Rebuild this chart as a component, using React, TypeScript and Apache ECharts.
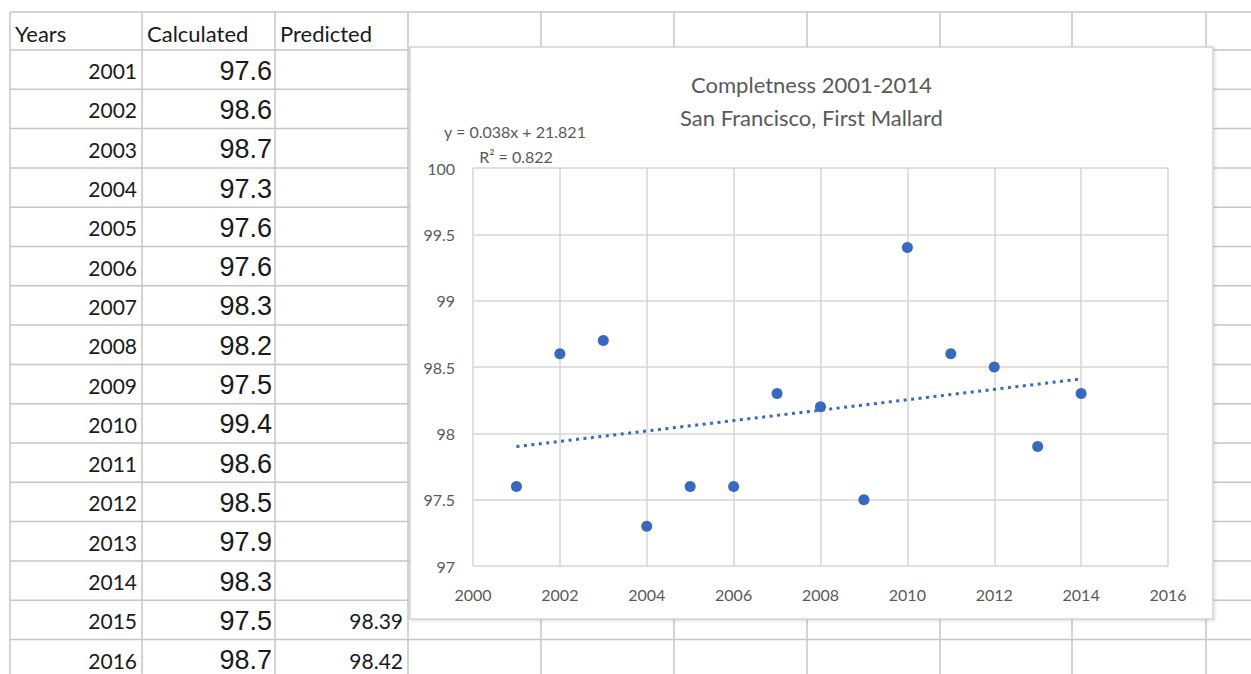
import React, { useEffect, useRef } from "react";
import * as echarts from "echarts";

// ---------- data ----------
const headers = ["Years", "Calculated", "Predicted"];
const years = [2001, 2002, 2003, 2004, 2005, 2006, 2007, 2008, 2009, 2010, 2011, 2012, 2013, 2014, 2015, 2016];
const calculated = [97.6, 98.6, 98.7, 97.3, 97.6, 97.6, 98.3, 98.2, 97.5, 99.4, 98.6, 98.5, 97.9, 98.3, 97.5, 98.7];
const predicted: (number | null)[] = [null, null, null, null, null, null, null, null, null, null, null, null, null, null, 98.39, 98.42];

const chartYears = years.slice(0, 14);
const chartValues = calculated.slice(0, 14);
const trendYears = [2001, 2014];
const trendValues = [97.9, 98.41];

const titleLines = ["Completness 2001-2014", "San Francisco, First Mallard"];
const equationLines = ["y = 0.038x + 21.821", "R² = 0.822"];

const xMin = 2000, xMax = 2016, xStep = 2;
const yMin = 97, yMax = 100, yStep = 0.5;

// ---------- layout ----------
const W = 1251, H = 674;
const colX = [10, 142, 275, 408, 541, 674, 807, 940, 1072, 1206];
const headerTop = 12;
const firstRowTop = 50;
const rowH = 39.3;
const box = { x: 410, y: 47, w: 803, h: 572 };
const plot = { left: 473, top: 168, w: 695, h: 398 };

const CAL = "Lato, 'Open Sans', sans-serif";
const ARIAL = "'Liberation Sans', Arial, sans-serif";
const LINE = "#c6c6c6";
const BLUE = "#3868c0";

export default function App() {
  const ref = useRef<HTMLDivElement>(null);
  useEffect(() => {
    if (!ref.current) return;
    const chart = echarts.init(ref.current, null, { renderer: "svg" });
    const els: any[] = [];
    const rowYs: number[] = [headerTop];
    for (let i = 0; i <= years.length; i++) rowYs.push(firstRowTop + i * rowH);
    rowYs.forEach((y) => {
      els.push({ type: "line", z: -3, shape: { x1: colX[0], y1: y, x2: W, y2: y }, style: { stroke: LINE, lineWidth: 1.5 } });
    });
    colX.forEach((x) => {
      els.push({ type: "line", z: -3, shape: { x1: x, y1: headerTop, x2: x, y2: H }, style: { stroke: LINE, lineWidth: 1.5 } });
    });
    els.push({
      type: "rect", z: -2,
      shape: { x: box.x, y: box.y, width: box.w, height: box.h },
      style: { fill: "#ffffff", stroke: "#d4d4d4", lineWidth: 1.5, shadowBlur: 3, shadowOffsetX: 1, shadowOffsetY: 1, shadowColor: "rgba(0,0,0,0.15)" },
    });
    headers.forEach((h, i) => {
      els.push({ type: "text", z: -1, style: { text: h, x: colX[i] + 5, y: (headerTop + firstRowTop) / 2 + 2, fill: "#1a1a1a", font: `22px ${CAL}`, align: "left", verticalAlign: "middle" } });
    });
    years.forEach((yr, i) => {
      const cy = firstRowTop + i * rowH + rowH / 2 + 1;
      els.push({ type: "text", z: -1, style: { text: String(yr), x: colX[1] - 5, y: cy, fill: "#1a1a1a", font: `21px ${CAL}`, align: "right", verticalAlign: "middle" } });
      els.push({ type: "text", z: -1, style: { text: calculated[i].toFixed(1), x: colX[2] - 3, y: cy, fill: "#1a1a1a", font: `27px ${ARIAL}`, align: "right", verticalAlign: "middle" } });
      const p = predicted[i];
      if (p != null) {
        els.push({ type: "text", z: -1, style: { text: p.toFixed(2), x: colX[3] - 5, y: cy, fill: "#1a1a1a", font: `21px ${CAL}`, align: "right", verticalAlign: "middle" } });
      }
    });
    const cx = box.x + box.w / 2;
    els.push({ type: "text", z: -1, style: { text: titleLines[0], x: cx, y: 84, fill: "#595959", font: `22px ${CAL}`, align: "center", verticalAlign: "middle" } });
    els.push({ type: "text", z: -1, style: { text: titleLines[1], x: cx, y: 117, fill: "#595959", font: `22px ${CAL}`, align: "center", verticalAlign: "middle" } });
    els.push({ type: "text", z: -1, style: { text: equationLines[0], x: 515, y: 131, fill: "#595959", font: `16px ${CAL}`, align: "center", verticalAlign: "middle" } });
    els.push({ type: "text", z: -1, style: { text: equationLines[1], x: 516, y: 156, fill: "#595959", font: `16px ${CAL}`, align: "center", verticalAlign: "middle" } });

    chart.setOption({
      animation: false,
      backgroundColor: "#ffffff",
      graphic: { elements: els },
      grid: { left: plot.left, top: plot.top, width: plot.w, height: plot.h, containLabel: false },
      xAxis: {
        type: "value", min: xMin, max: xMax, interval: xStep,
        axisLine: { show: false }, axisTick: { show: false },
        splitLine: { show: true, lineStyle: { color: "#d6d6d6", width: 1.5 } },
        axisLabel: { color: "#595959", fontFamily: CAL, fontSize: 16, margin: 20, formatter: (v: number) => String(v) },
      },
      yAxis: {
        type: "value", min: yMin, max: yMax, interval: yStep,
        axisLine: { show: false }, axisTick: { show: false },
        splitLine: { show: true, lineStyle: { color: "#d6d6d6", width: 1.5 } },
        axisLabel: { color: "#595959", fontFamily: CAL, fontSize: 16, margin: 18, formatter: (v: number) => String(v) },
      },
      series: [
        {
          type: "line",
          data: trendYears.map((x, i) => [x, trendValues[i]]),
          showSymbol: false,
          symbol: "none",
          lineStyle: { color: BLUE, width: 3, type: [3, 4.5], opacity: 1 },
          z: 3,
        },
        {
          type: "scatter",
          data: chartYears.map((x, i) => [x, chartValues[i]]),
          symbol: "circle",
          symbolSize: 11,
          itemStyle: { color: BLUE, opacity: 1 },
          z: 4,
        },
      ],
    });
    return () => chart.dispose();
  }, []);
  return <div ref={ref} style={{ position: "absolute", left: 0, top: 0, width: W, height: H }} />;
}
